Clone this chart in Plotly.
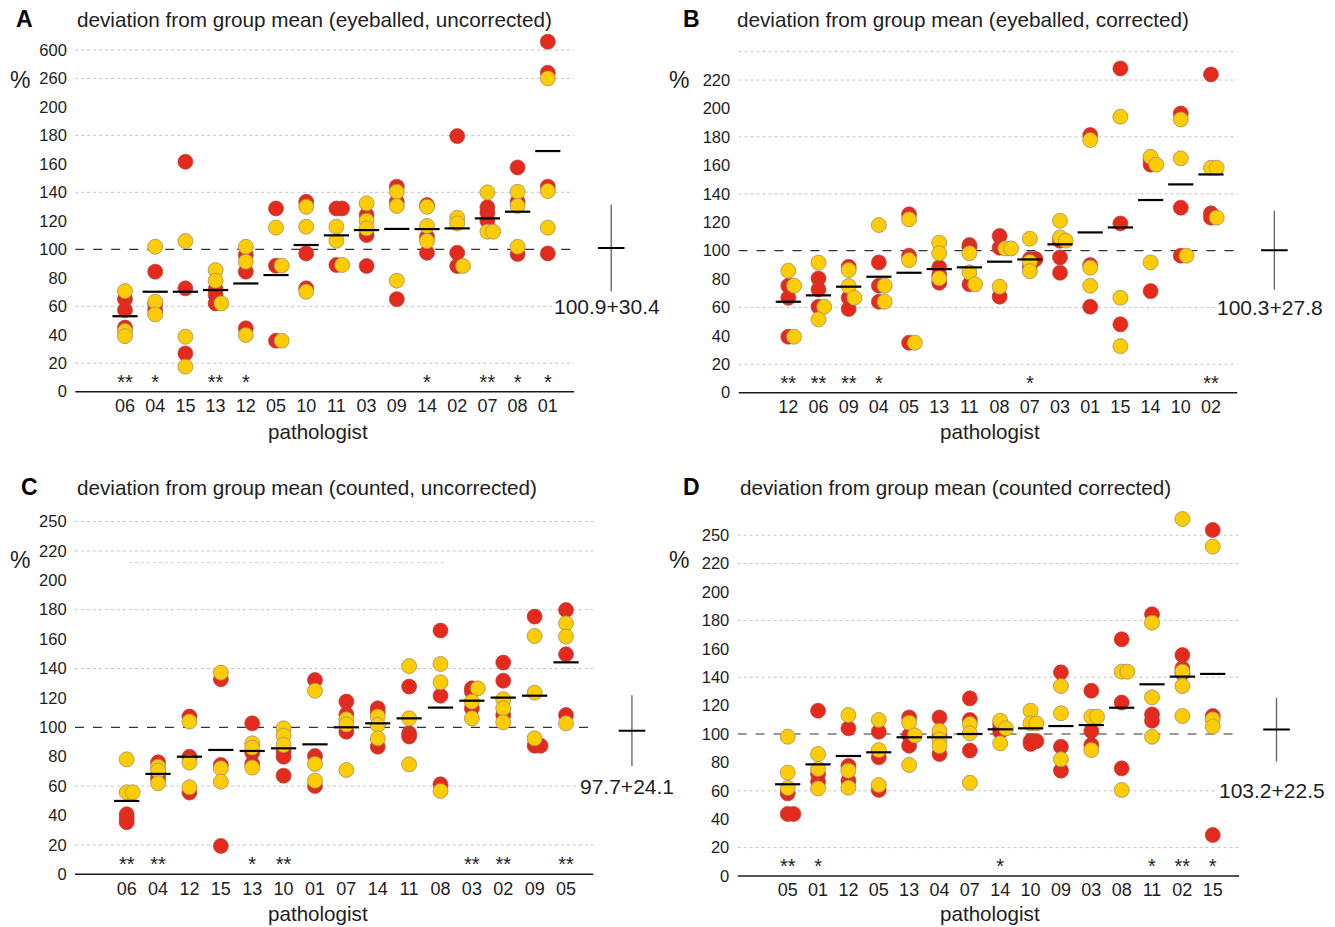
import plotly.graph_objects as go

W, H = 1335, 927
H_CONV = 920  # effective vertical pixel scale observed in the photographed page
RED = "#E4291D"
YEL = "#FFCC00"
EDGE = "#9c9070"
TXT = "#1e1e1e"
FONT = "Liberation Sans, Arial, sans-serif"

A_cats = ["06", "04", "15", "13", "12", "05", "10", "11", "03", "09", "14", "02", "07", "08", "01"]
A_red = [[65, 57.3, 45], [84.3, 61.6, 57.3], [161.5, 72.6, 26.9], [71.9, 67.9, 62],
         [96, 84.3, 44.5], [128.7, 88.5, 35.8], [133.4, 97.1, 72.6], [128.7, 128.7, 89],
         [124.1, 110, 88.3], [144, 133.4, 65], [131.1, 108.8, 97.6], [179.5, 97.6, 88.3],
         [129.5, 125.7, 120], [157.5, 133.4, 96.7], [245.8, 224, 144, 97.1]]
A_yel = [[70.7, 42.6, 39], [101.8, 63.2, 54.3], [105.8, 38.6, 17.6], [85.4, 78, 62],
         [101.8, 91.3, 39.8], [115.2, 88.5, 35.8], [129.9, 115.9, 70.2], [115.9, 106, 89],
         [132.3, 120.1, 114.7], [140.4, 130.4, 78], [129.9, 116.4, 105.8], [122.2, 118.2, 88.3],
         [140, 112.4, 112.4], [140.4, 130.4, 101.8], [220, 140.9, 115.2]]
A_mean = [53, 70.2, 70.2, 71.4, 76, 81.9, 103, 109.8, 113.5, 114.3, 114.2, 114.7, 121.7, 126.4, 169]
A_sig = ["**", "*", "", "**", "*", "", "", "", "", "", "*", "", "**", "*", "*"]
A_ticks = ["0", "20", "40", "60", "80", "100", "120", "140", "160", "180", "200", "260", "600"]
A_stat = (100.9, 30.4)

B_cats = ["12", "06", "09", "04", "05", "13", "11", "08", "07", "03", "01", "15", "14", "10", "02"]
B_red = [[75.3, 66.8, 39.4], [80.4, 72.7, 60.5], [88.6, 66.8, 58.9], [91.7, 75.3, 64],
         [125.5, 96.4, 35.2], [88.2, 82.8, 77.4], [103.9, 102.3, 76.3], [110.3, 102, 67.6],
         [94, 94, 89], [107, 95.2, 84.4], [181.3, 89.8, 60.5], [228.2, 119.1, 48.1],
         [163.7, 160.5, 71.5], [196.5, 130.2, 96.4], [224, 126.2, 123.2]]
B_yel = [[85.8, 75.3, 39.4], [91.5, 60.5, 51.6], [86.3, 75, 66.8], [118, 75.3, 64],
         [122, 93.3, 35.2], [105.6, 98.1, 80.5], [98.1, 84.7, 76.3], [101.5, 101.5, 74.6],
         [108.4, 92, 85.5], [121, 109.3, 107], [177.8, 88, 75.3], [194.2, 66.8, 32.8],
         [166, 160.5, 91.7], [192.3, 164.9, 96.4], [158.3, 158.3, 123.2]]
B_mean = [64, 68.5, 74.6, 81.6, 84.4, 87, 88.2, 92.2, 93.8, 104.4, 112.8, 116.3, 135.6, 146.6, 153.6]
B_sig = ["**", "**", "**", "*", "", "", "", "", "*", "", "", "", "", "", "**"]
B_ticks = ["0", "20", "40", "60", "80", "100", "120", "140", "160", "180", "200", "220", ""]
B_stat = (100.3, 27.8)

# ---------------- Panel C : counted, uncorrected ----------------
C_cats = ["06", "04", "12", "15", "13", "10", "01", "07", "14", "11", "08", "03", "02", "09", "05"]
C_red = [[40.8, 38.1, 35.4], [76.2, 68.3, 65], [107.3, 80, 55.6], [132.7, 74.4, 19.3],
         [102.7, 82.8, 75.1], [83.4, 80, 67.1], [132.2, 80.5, 60.1], [117.5, 108.8, 97],
         [112.9, 110, 86.8], [127.7, 95.9, 93.7], [165.8, 121.5, 61.2], [126.5, 124.3, 112.9],
         [144, 131.7, 108.4], [175.3, 87.5, 87.5], [179.8, 149.7, 108.4]]
C_yel = [[78.2, 55.8, 55.8], [73.2, 70.5, 61.9], [103.9, 76, 59.2], [137.2, 72.1, 63],
         [89.1, 86.2, 72.6], [99.3, 94.3, 88], [124.9, 75.1, 63.7], [105.4, 102, 71],
         [107.3, 101.6, 92.5], [141.7, 106.1, 74.8], [143.1, 130.6, 56.7], [126.5, 117.5, 106.1],
         [119, 112.9, 103.4], [162.1, 123.6, 92.5], [170.7, 161.7, 102.7]]
C_mean = [49.9, 68.3, 80, 84.6, 83.9, 85.7, 88.4, 100, 102.7, 106.1, 113.4, 118.1, 120.2, 121.5, 144.2]
C_sig = ["**", "**", "", "", "*", "**", "", "", "", "", "", "**", "**", "", "**"]
C_ticks = ["0", "20", "40", "60", "80", "100", "120", "140", "160", "180", "200", "220", "250"]
C_stat = (97.7, 24.1)

# ---------------- Panel D : counted corrected ----------------
D_cats = ["05", "01", "12", "05", "13", "04", "07", "14", "10", "09", "03", "08", "11", "02", "15"]
D_red = [[58.2, 43.7, 43.7], [116.4, 71.8, 66.4], [104, 77.5, 67.1], [101.6, 83.6, 60.6],
         [111.7, 99, 91.8], [111.7, 99.3, 85.9], [125.1, 109.9, 88.3], [107, 104, 101.6],
         [95, 95, 93], [143.4, 91, 74.2], [130.5, 102.1, 92.3], [166.7, 122.1, 75.8],
         [184.3, 113.8, 109.4], [155.6, 146.3, 142.7], [243.7, 112.7, 28.9]]
D_yel = [[98.1, 72.8, 62], [85.9, 75.4, 61.7], [113.4, 74.2, 62.2], [109.9, 88.7, 64.1],
         [108, 99, 78.2], [102.3, 96.2, 91.5], [107, 100.5, 65.7], [109.4, 104, 93.4],
         [116.4, 107.5, 107.5], [133.8, 114.6, 82.2], [112.2, 112.2, 88.7], [143.9, 143.9, 60.6],
         [178.4, 125.8, 98.1], [251.4, 143.9, 133.8, 112.7], [232, 110.3, 105.2]]
D_mean = [64.6, 78.6, 84.5, 87.1, 97.7, 97.7, 100, 103.3, 104, 105.6, 106.3, 118.5, 135, 140.4, 142.3]
D_sig = ["**", "*", "", "", "", "", "", "*", "", "", "", "", "*", "**", "*"]
D_ticks = ["0", "20", "40", "60", "80", "100", "120", "140", "160", "180", "200", "220", "250"]
D_stat = (103.2, 22.5)

TICKVALS = list(range(0, 241, 20))
GRID_VALS = [20, 60, 140, 180, 220, 240]
REF_VAL = 100

panels = [
    dict(letter="A", title="deviation from group mean (eyeballed, uncorrected)",
         cats=A_cats, red=A_red, yel=A_yel, mean=A_mean, sig=A_sig, ticks=A_ticks, stat=A_stat,
         cat0=125, dx=30.2, y0=391.7, ky=1.424, letter_xy=(24, 19), title_x=75, pct_xy=(20, 80),
         xlab_xy=(318, 431)),
    dict(letter="B", title="deviation from group mean (eyeballed, corrected)",
         cats=B_cats, red=B_red, yel=B_yel, mean=B_mean, sig=B_sig, ticks=B_ticks, stat=B_stat,
         cat0=788.3, dx=30.19, y0=392.7, ky=1.421, letter_xy=(692, 19), title_x=735, pct_xy=(679, 80),
         xlab_xy=(990, 431)),
    dict(letter="C", title="deviation from group mean (counted, uncorrected)",
         cats=C_cats, red=C_red, yel=C_yel, mean=C_mean, sig=C_sig, ticks=C_ticks, stat=C_stat,
         cat0=126.7, dx=31.38, y0=874.3, ky=1.47, letter_xy=(29, 487), title_x=75, pct_xy=(20, 560),
         xlab_xy=(318, 913)),
    dict(letter="D", title="deviation from group mean (counted corrected)",
         cats=D_cats, red=D_red, yel=D_yel, mean=D_mean, sig=D_sig, ticks=D_ticks, stat=D_stat,
         cat0=787.7, dx=30.36, y0=876, ky=1.42, letter_xy=(692, 487), title_x=738, pct_xy=(679, 560),
         xlab_xy=(990, 913)),
]

XL, XR = -1.65, 17.6
GX0, GX1 = -1.65, 14.87
YB, YT = -1.0, 256
SD_X = 16.1
STAT_TEXT_Y = 60
DODGE = 0.19


def fy(py):
    """pixel row from the top -> paper fraction"""
    return 1 - py / H_CONV


fig = go.Figure()
layout = dict(width=W, height=H, autosize=False, margin=dict(l=0, r=0, t=0, b=0, pad=0),
              paper_bgcolor="white", plot_bgcolor="white", showlegend=False,
              font=dict(family=FONT, color=TXT))
shapes, annots = [], []

for n, p in enumerate(panels, start=1):
    xa = "x" if n == 1 else f"x{n}"
    ya = "y" if n == 1 else f"y{n}"
    px_l = p["cat0"] + XL * p["dx"]
    px_r = p["cat0"] + XR * p["dx"]
    px_b = p["y0"] - YB * p["ky"]
    px_t = p["y0"] - YT * p["ky"]
    layout["xaxis" if n == 1 else f"xaxis{n}"] = dict(
        domain=[px_l / W, px_r / W], range=[XL, XR], anchor=ya,
        tickvals=list(range(len(p["cats"]))), ticktext=p["cats"],
        showgrid=False, zeroline=False, showline=False, ticks="",
        tickfont=dict(size=18, color=TXT, family=FONT))
    layout["yaxis" if n == 1 else f"yaxis{n}"] = dict(
        domain=[fy(px_b), fy(px_t)], range=[YB, YT], anchor=xa,
        tickvals=TICKVALS, ticktext=p["ticks"],
        showgrid=False, zeroline=False, showline=False,
        ticks="outside", ticklen=4, tickcolor="rgba(0,0,0,0)",
        tickfont=dict(size=16.5, color=TXT, family=FONT))

    # grid lines, reference line and baseline
    for g in GRID_VALS:
        shapes.append(dict(type="line", xref=xa, yref=ya, x0=GX0, x1=GX1, y0=g, y1=g,
                           line=dict(color="#c4c4c4", width=1, dash="dot"), layer="below"))
    if p["letter"] == "C":
        shapes.append(dict(type="line", xref=xa, yref=ya, x0=0.07, x1=10.1, y0=212, y1=212,
                           line=dict(color="#cfcfcf", width=1, dash="dot"), layer="below"))
    shapes.append(dict(type="line", xref=xa, yref=ya, x0=GX0, x1=GX1, y0=REF_VAL, y1=REF_VAL,
                       line=dict(color="#333333", width=1.2, dash="dash"), layer="below"))
    shapes.append(dict(type="line", xref=xa, yref=ya, x0=GX0, x1=GX1, y0=0, y1=0,
                       line=dict(color="#1a1a1a", width=1.6), layer="below"))

    # dots with simple dodge for coincident values
    rx, ry, yx, yy = [], [], [], []
    for i in range(len(p["cats"])):
        placed = []
        for colour, vals in (("r", p["red"][i]), ("y", p["yel"][i])):
            for v in vals:
                k = 0
                while any(abs(v - pv) < 1.0 and pk == k for pv, pk in placed):
                    k += 1
                placed.append((v, k))
                if colour == "r":
                    rx.append(i + DODGE * k); ry.append(v)
                else:
                    yx.append(i + DODGE * k); yy.append(v)
    fig.add_trace(go.Scatter(x=rx, y=ry, xaxis=xa, yaxis=ya, mode="markers", cliponaxis=False,
                             marker=dict(size=15, color=RED, line=dict(color="#b0483a", width=0.7)),
                             hoverinfo="skip"))
    fig.add_trace(go.Scatter(x=yx, y=yy, xaxis=xa, yaxis=ya, mode="markers", cliponaxis=False,
                             marker=dict(size=15, color=YEL, line=dict(color=EDGE, width=0.8)),
                             hoverinfo="skip"))
    # group means
    fig.add_trace(go.Scatter(x=list(range(len(p["mean"]))), y=p["mean"], xaxis=xa, yaxis=ya,
                             mode="markers", cliponaxis=False,
                             marker=dict(symbol="line-ew", size=18, color="black",
                                         line=dict(color="black", width=2.2)),
                             hoverinfo="skip"))
    # significance stars
    fig.add_trace(go.Scatter(x=list(range(len(p["sig"]))), y=[5.5] * len(p["sig"]), text=p["sig"],
                             xaxis=xa, yaxis=ya, mode="text", cliponaxis=False,
                             textfont=dict(size=20, color=TXT, family=FONT), hoverinfo="skip"))
    # overall mean +/- SD
    m, s = p["stat"]
    fig.add_trace(go.Scatter(x=[SD_X, SD_X], y=[m - s, m + s], xaxis=xa, yaxis=ya, mode="lines",
                             line=dict(color="#6a6a6a", width=1.4), hoverinfo="skip"))
    fig.add_trace(go.Scatter(x=[SD_X], y=[m], xaxis=xa, yaxis=ya, mode="markers",
                             marker=dict(symbol="line-ew", size=19, color="black",
                                         line=dict(color="black", width=2)),
                             hoverinfo="skip"))
    annots.append(dict(x=15.95, y=STAT_TEXT_Y, xref=xa, yref=ya, text=f"{m}+{s}", showarrow=False,
                       xanchor="center", yanchor="middle", font=dict(size=21, color=TXT, family=FONT),
                       bgcolor="white"))

    # texts
    lx, ly = p["letter_xy"]
    annots.append(dict(x=lx / W, y=fy(ly), xref="paper", yref="paper", text=f"<b>{p['letter']}</b>",
                       showarrow=False, xanchor="center", yanchor="middle",
                       font=dict(size=23, color="black", family=FONT)))
    annots.append(dict(x=p["title_x"] / W, y=fy(ly), xref="paper", yref="paper", text=p["title"],
                       showarrow=False, xanchor="left", yanchor="middle",
                       font=dict(size=20.7, color=TXT, family=FONT)))
    qx, qy = p["pct_xy"]
    annots.append(dict(x=qx / W, y=fy(qy), xref="paper", yref="paper", text="%",
                       showarrow=False, xanchor="center", yanchor="middle",
                       font=dict(size=23, color=TXT, family=FONT)))
    tx, ty = p["xlab_xy"]
    annots.append(dict(x=tx / W, y=fy(ty), xref="paper", yref="paper", text="pathologist",
                       showarrow=False, xanchor="center", yanchor="middle",
                       font=dict(size=20.6, color=TXT, family=FONT)))

layout["shapes"] = shapes
layout["annotations"] = annots
fig.update_layout(**layout)
fig.write_html("out.html",
               config={"displayModeBar": False, "responsive": False},
               post_script="document.body.style.margin='0';document.body.style.overflow='hidden';")
